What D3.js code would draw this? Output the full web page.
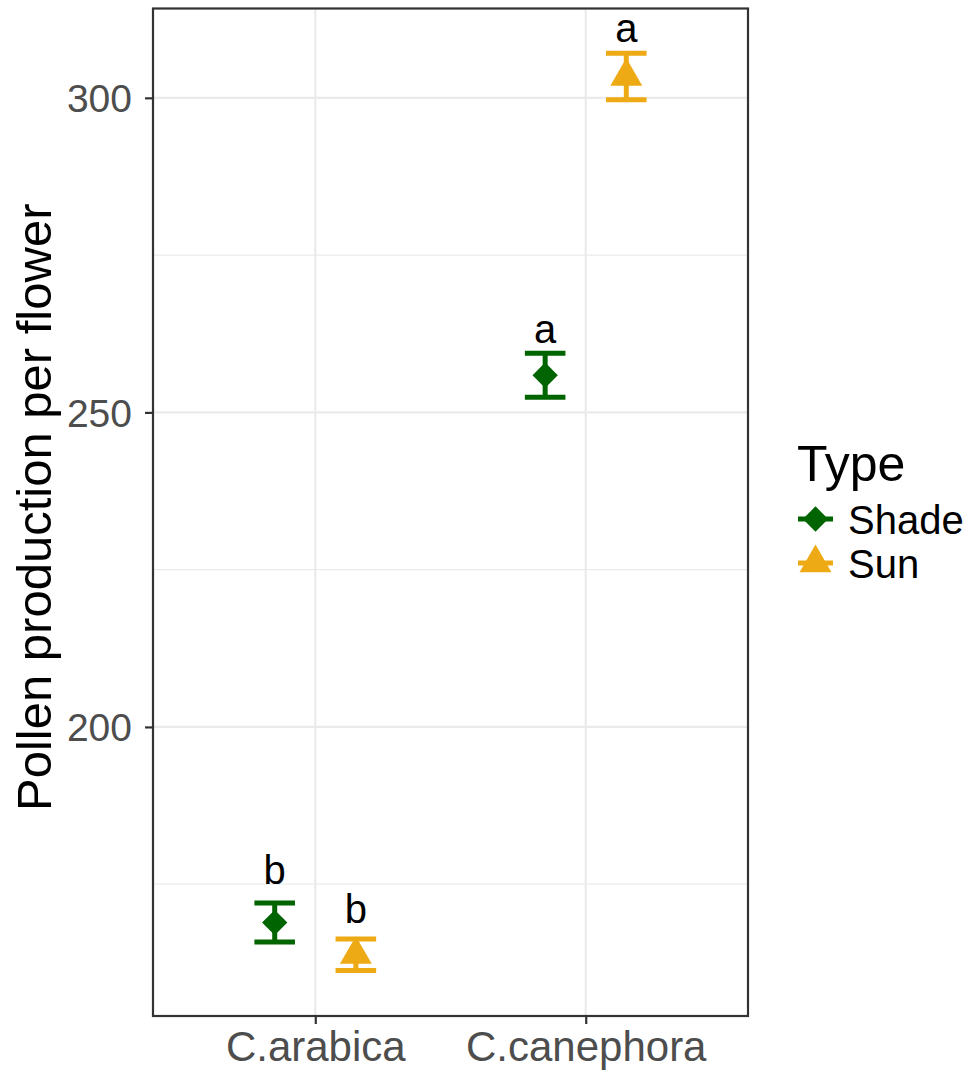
<!DOCTYPE html>
<html>
<head>
<meta charset="utf-8">
<script src="https://cdn.jsdelivr.net/npm/d3@7"></script>
<style>
  html, body { margin: 0; padding: 0; background: #fff; }
  svg { display: block; font-family: "Liberation Sans", Arial, sans-serif; }
</style>
</head>
<body>
<svg id="chart" width="971" height="1072"></svg>
<script>
// Pollen production per flower by species and growing condition (mean ± SE)
const species = ["C.arabica", "C.canephora"];
const types = ["Shade", "Sun"];
const typeColors = ["#006400", "#EEAA15"];

const seriesSpecies = ["C.arabica", "C.arabica", "C.canephora", "C.canephora"];
const seriesType    = ["Shade", "Sun", "Shade", "Sun"];
const meanValues    = [168.9, 163.8, 255.9, 303.4];
const seValues      = [3.1, 2.5, 3.5, 3.7];
const groupLetters  = ["b", "b", "a", "a"];
const letterY       = [175.0, 168.9, 261.1, 308.9];

const yTicks = [200, 250, 300];
const yMinor = [175, 225, 275];
const yDomain = [154.05, 314.2];

const svg = d3.select("#chart");
const W = 971, H = 1072;
svg.append("rect").attr("width", W).attr("height", H).attr("fill", "#fff");

const panel = { left: 153, right: 748, top: 8.5, bottom: 1016 };

const x = d3.scalePoint().domain(species)
  .range([panel.left, panel.right]).padding(0.6);
const dodge = d3.scalePoint().domain(types).range([-0.15, 0.15]);
const y = d3.scaleLinear().domain(yDomain).range([panel.bottom, panel.top]);
const color = d3.scaleOrdinal().domain(types).range(typeColors);

const step = x.step();
const px = i => x(seriesSpecies[i]) + dodge(seriesType[i]) * step;
const capHalf = 0.075 * step;

// grid
const grid = svg.append("g");
grid.selectAll(".minor").data(yMinor).join("line")
  .attr("x1", panel.left).attr("x2", panel.right)
  .attr("y1", d => y(d)).attr("y2", d => y(d))
  .attr("stroke", "#EBEBEB").attr("stroke-width", 1.3);
grid.selectAll(".major").data(yTicks).join("line")
  .attr("x1", panel.left).attr("x2", panel.right)
  .attr("y1", d => y(d)).attr("y2", d => y(d))
  .attr("stroke", "#EBEBEB").attr("stroke-width", 2.2);
grid.selectAll(".vmajor").data(species).join("line")
  .attr("x1", d => x(d)).attr("x2", d => x(d))
  .attr("y1", panel.top).attr("y2", panel.bottom)
  .attr("stroke", "#EBEBEB").attr("stroke-width", 2.2);

// axes
const yAxis = svg.append("g").attr("transform", `translate(${panel.left},0)`)
  .call(d3.axisLeft(y).tickValues(yTicks).tickSize(8).tickPadding(13));
const xAxis = svg.append("g").attr("transform", `translate(0,${panel.bottom})`)
  .call(d3.axisBottom(x).tickSize(8).tickPadding(7));
[yAxis, xAxis].forEach(g => {
  g.select(".domain").remove();
  g.selectAll(".tick line").attr("stroke", "#333333").attr("stroke-width", 2.2);
  g.selectAll(".tick text").attr("fill", "#4D4D4D").attr("font-family", "Liberation Sans, Arial, sans-serif");
});
yAxis.selectAll(".tick text").attr("font-size", 39).attr("dy", "0.36em");
xAxis.selectAll(".tick text").attr("font-size", 42).attr("dy", "0.72em");

// panel border
svg.append("rect")
  .attr("x", panel.left).attr("y", panel.top)
  .attr("width", panel.right - panel.left).attr("height", panel.bottom - panel.top)
  .attr("fill", "none").attr("stroke", "#333333").attr("stroke-width", 2.2);

// y axis title
svg.append("text")
  .attr("transform", `translate(51,${(panel.top + panel.bottom) / 2 - 5}) rotate(-90)`)
  .attr("text-anchor", "middle")
  .attr("font-size", 49)
  .attr("fill", "#000")
  .text("Pollen production per flower");

// error bars
const idx = d3.range(meanValues.length);
const eb = svg.append("g").attr("stroke-width", 5).attr("fill", "none");
idx.forEach(i => {
  const c = color(seriesType[i]);
  const lo = y(meanValues[i] - seValues[i]);
  const hi = y(meanValues[i] + seValues[i]);
  const cx = px(i);
  eb.append("line").attr("x1", cx).attr("x2", cx).attr("y1", lo).attr("y2", hi).attr("stroke", c);
  eb.append("line").attr("x1", cx - capHalf).attr("x2", cx + capHalf).attr("y1", lo).attr("y2", lo).attr("stroke", c);
  eb.append("line").attr("x1", cx - capHalf).attr("x2", cx + capHalf).attr("y1", hi).attr("y2", hi).attr("stroke", c);
});

// point symbols
const symbolFor = t => t === "Shade"
  ? d3.symbol(d3.symbolSquare, 320)()
  : d3.symbol(d3.symbolTriangle, 440)();
const rotFor = t => t === "Shade" ? 45 : 0;

svg.append("g").selectAll("path").data(idx).join("path")
  .attr("d", i => symbolFor(seriesType[i]))
  .attr("transform", i => `translate(${px(i)},${y(meanValues[i])}) rotate(${rotFor(seriesType[i])})`)
  .attr("fill", i => color(seriesType[i]));

// group letters
svg.append("g").selectAll("text").data(idx).join("text")
  .attr("x", i => px(i))
  .attr("y", i => y(letterY[i]))
  .attr("text-anchor", "middle")
  .attr("font-size", 40)
  .attr("fill", "#000")
  .text(i => groupLetters[i]);

// legend
const leg = svg.append("g");
leg.append("text").attr("x", 797).attr("y", 481)
  .attr("font-size", 50).attr("fill", "#000").text("Type");
const keyRows = [519, 563];
types.forEach((t, k) => {
  const cy = keyRows[k];
  const g = leg.append("g");
  g.append("line").attr("x1", 798).attr("x2", 833).attr("y1", cy).attr("y2", cy)
    .attr("stroke", color(t)).attr("stroke-width", 5);
  g.append("path").attr("d", symbolFor(t))
    .attr("transform", `translate(815.5,${cy}) rotate(${rotFor(t)})`)
    .attr("fill", color(t));
  g.append("text").attr("x", 848).attr("y", cy + 15)
    .attr("font-size", 40).attr("fill", "#000").text(t);
});
</script>
</body>
</html>
